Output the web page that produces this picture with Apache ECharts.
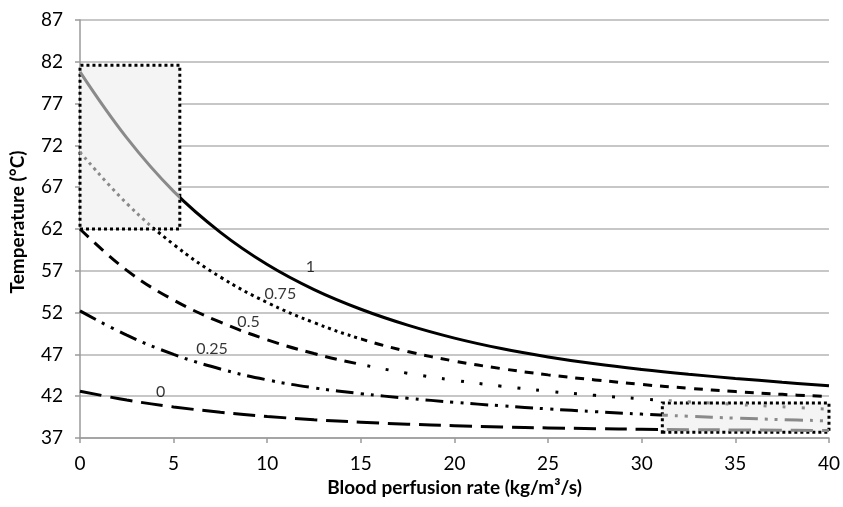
<!DOCTYPE html>
<html>
<head>
<meta charset="utf-8">
<script src="https://cdn.jsdelivr.net/npm/echarts@6/dist/echarts.min.js"></script>
<style>
html,body{margin:0;padding:0;background:#fff;}
#chart{width:843px;height:507px;}
</style>
</head>
<body>
<div id="chart"></div>
<script>
// Data (every 2.5 kg/m3/s)
const xValues   = [0, 2.5, 5, 7.5, 10, 12.5, 15, 17.5, 20, 22.5, 25, 27.5, 30, 32.5, 35, 37.5, 40];
const curve1    = [80.8, 72.9, 66.5, 61.6, 57.75, 54.75, 52.4, 50.5, 48.95, 47.7, 46.7, 45.87, 45.2, 44.63, 44.13, 43.67, 43.25];
const curve075  = [71.2, 65.05, 60.15, 56.25, 53.2, 50.8, 48.85, 47.35, 46.2, 45.3, 44.55, 43.95, 43.4, 42.95, 42.55, 42.22, 41.95];
const curve05   = [62.0, 57.05, 53.5, 50.85, 48.75, 47.1, 45.8, 44.75, 43.9, 43.2, 42.6, 42.1, 41.68, 41.33, 41.02, 40.73, 40.45];
const curve025  = [52.2, 49.3, 47.0, 45.25, 43.95, 43.0, 42.3, 41.75, 41.27, 40.85, 40.48, 40.15, 39.86, 39.6, 39.38, 39.2, 39.05];
const curve0    = [42.6, 41.54, 40.72, 40.08, 39.58, 39.19, 38.89, 38.65, 38.47, 38.32, 38.21, 38.12, 38.05, 38.0, 37.96, 37.93, 37.9];
const seriesNames = ['1', '0.75', '0.5', '0.25', '0'];
const labelX    = [12.3, 10.7, 9.0, 7.05, 4.3];
const labelY    = [57.5, 54.3, 50.9, 47.7, 42.5];
const yTicks    = {min: 37, max: 87, interval: 5};
const xTicks    = {min: 0, max: 40, interval: 5};
const boxTopLeft     = [[-0.05, 62.0], [5.33, 81.6]];
const boxBottomRight = [[31.1, 37.7], [40.35, 41.2]];
const grayEnd1   = 5.33;   // curve "1" is gray inside the upper box
const grayEnd075 = 3.9;    // curve "0.75" is gray inside the upper box
const grayStartLow = 31.1; // lower curves are gray inside the lower box
const styleSwitch = 15;    // dash pattern of 0.75 / 0.5 changes look beyond here

const FONT = 'Lato, "Open Sans", sans-serif';
const GRAY = '#8a8a8a', BLACK = '#000', NONE = 'rgba(0,0,0,0)';
const lo = xTicks.min - 1, hi = xTicks.max + 1;
const pair = ys => xValues.map((x, i) => [x, ys[i]]);

// each drawn layer: [curve, dash pattern, colour pieces along x]
const layers = [
  [curve1,   'solid',               [[lo, grayEnd1, GRAY], [grayEnd1, hi, BLACK]]],
  [curve075, [3, 4],                [[lo, grayEnd075, GRAY], [grayEnd075, styleSwitch, BLACK], [styleSwitch, hi, NONE]]],
  [curve075, [9, 8],                [[lo, styleSwitch, NONE], [styleSwitch, hi, BLACK]]],
  [curve05,  [12, 8],               [[lo, styleSwitch, BLACK], [styleSwitch, hi, NONE]]],
  [curve05,  [3, 16],               [[lo, styleSwitch, NONE], [styleSwitch, grayStartLow, BLACK], [grayStartLow, hi, GRAY]]],
  [curve025, [18, 7, 3, 7, 3, 7],   [[lo, grayStartLow, BLACK], [grayStartLow, hi, GRAY]]],
  [curve0,   [22, 9],               [[lo, grayStartLow, BLACK], [grayStartLow, hi, GRAY]]]
];

const lineSeries = layers.map(([ys, dash]) => ({
  type: 'line',
  data: pair(ys),
  smooth: 0.4,
  showSymbol: false,
  symbol: 'none',
  clip: false,
  z: 3,
  lineStyle: {width: 3, type: dash}
}));

const visualMaps = layers.map(([, , pieces], i) => ({
  type: 'piecewise', show: false, dimension: 0, seriesIndex: i,
  pieces: pieces.map(([a, b, c], k) => (k === pieces.length - 1
    ? {gte: a, lte: b, color: c} : {gte: a, lt: b, color: c}))
}));

const boxStyle = {color: '#f4f4f4', borderColor: '#000', borderWidth: 3, borderType: [3, 3]};
const boxSeries = {
  type: 'line',
  data: [],
  clip: false,
  silent: true,
  markArea: {
    silent: true,
    z: 1,
    itemStyle: boxStyle,
    data: [
      [{coord: boxTopLeft[0]}, {coord: boxTopLeft[1]}],
      [{coord: boxBottomRight[0]}, {coord: boxBottomRight[1]}]
    ]
  }
};

const labelSeries = {
  type: 'scatter',
  symbolSize: 0,
  silent: true,
  z: 5,
  itemStyle: {color: 'transparent'},
  data: seriesNames.map((n, i) => ({name: n, value: [labelX[i], labelY[i]]})),
  label: {
    show: true, position: 'inside', formatter: p => p.name,
    fontFamily: FONT, fontSize: 16, color: '#000', textBorderWidth: 0
  }
};

const option = {
  backgroundColor: '#fff',
  animation: false,
  grid: {left: 80, right: 13, top: 20, bottom: 69},
  xAxis: {
    type: 'value', min: xTicks.min, max: xTicks.max, interval: xTicks.interval,
    name: 'Blood perfusion rate (kg/m\u00b3/s)', nameLocation: 'middle', nameGap: 38,
    nameTextStyle: {fontFamily: FONT, fontSize: 19, fontWeight: 'bold', color: '#000'},
    axisLine: {show: true, lineStyle: {color: '#9a9a9a', width: 1.5}},
    axisTick: {show: true, inside: false, length: 5, lineStyle: {color: '#9a9a9a', width: 1.5}},
    axisLabel: {fontFamily: FONT, fontSize: 19, color: '#000', margin: 16},
    splitLine: {show: false}
  },
  yAxis: {
    type: 'value', min: yTicks.min, max: yTicks.max, interval: yTicks.interval,
    name: 'Temperature (\u00b0C)', nameLocation: 'middle', nameGap: 53,
    nameTextStyle: {fontFamily: FONT, fontSize: 19, fontWeight: 'bold', color: '#000', padding: [0, 0, 0, 14]},
    axisLine: {show: true, lineStyle: {color: '#9a9a9a', width: 1.5}},
    axisTick: {show: true, inside: false, length: 5, lineStyle: {color: '#9a9a9a', width: 1.5}},
    axisLabel: {fontFamily: FONT, fontSize: 19, color: '#000', margin: 17},
    splitLine: {show: true, lineStyle: {color: '#b4b4b4', width: 1.5}}
  },
  visualMap: visualMaps,
  series: [...lineSeries, boxSeries, labelSeries]
};

const chart = echarts.init(document.getElementById('chart'), null, {renderer: 'canvas'});
chart.setOption(option);
</script>
</body>
</html>
